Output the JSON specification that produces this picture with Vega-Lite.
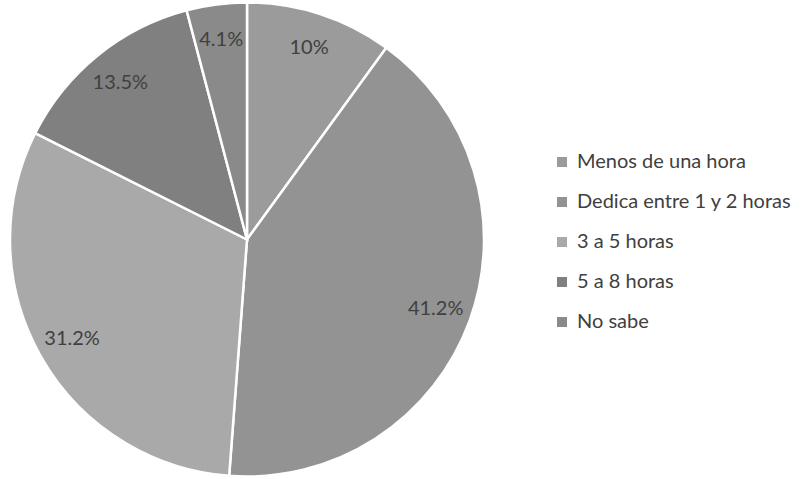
{
  "$schema": "https://vega.github.io/schema/vega-lite/v6.json",
  "width": 494,
  "height": 479,
  "padding": {"left": 0, "top": 0, "right": 309, "bottom": 0},
  "autosize": "none",
  "background": "white",
  "config": {"view": {"stroke": null}, "font": "Lato"},
  "data": {"values": [
    {"cat": "Menos de una hora", "v": 10, "label": "10%", "o": 1},
    {"cat": "Dedica entre 1 y 2 horas", "v": 41.2, "label": "41.2%", "o": 2},
    {"cat": "3 a 5 horas", "v": 31.2, "label": "31.2%", "o": 3},
    {"cat": "5 a 8 horas", "v": 13.5, "label": "13.5%", "o": 4},
    {"cat": "No sabe", "v": 4.1, "label": "4.1%", "o": 5}
  ]},
  "encoding": {
    "theta": {"field": "v", "type": "quantitative", "stack": true},
    "order": {"field": "o", "type": "quantitative"}
  },
  "layer": [
    {
      "mark": {"type": "arc", "outerRadius": 237, "stroke": "white", "strokeWidth": 2.5},
      "encoding": {
        "color": {
          "field": "cat", "type": "nominal",
          "sort": ["Menos de una hora", "Dedica entre 1 y 2 horas", "3 a 5 horas", "5 a 8 horas", "No sabe"],
          "scale": {
            "domain": ["Menos de una hora", "Dedica entre 1 y 2 horas", "3 a 5 horas", "5 a 8 horas", "No sabe"],
            "range": ["#9b9b9b", "#939393", "#a9a9a9", "#808080", "#8a8a8a"]
          },
          "legend": {
            "title": null,
            "orient": "none",
            "legendX": 552,
            "legendY": 152,
            "symbolType": "square",
            "symbolSize": 100,
            "symbolStrokeWidth": 0,
            "labelFontSize": 20,
            "labelColor": "#404040",
            "labelOffset": 5,
            "rowPadding": 20,
            "labelLimit": 300
          }
        }
      }
    },
    {
      "mark": {"type": "text", "radius": 201, "fontSize": 20, "fill": "#404040"},
      "encoding": {"text": {"field": "label"}}
    }
  ]
}
